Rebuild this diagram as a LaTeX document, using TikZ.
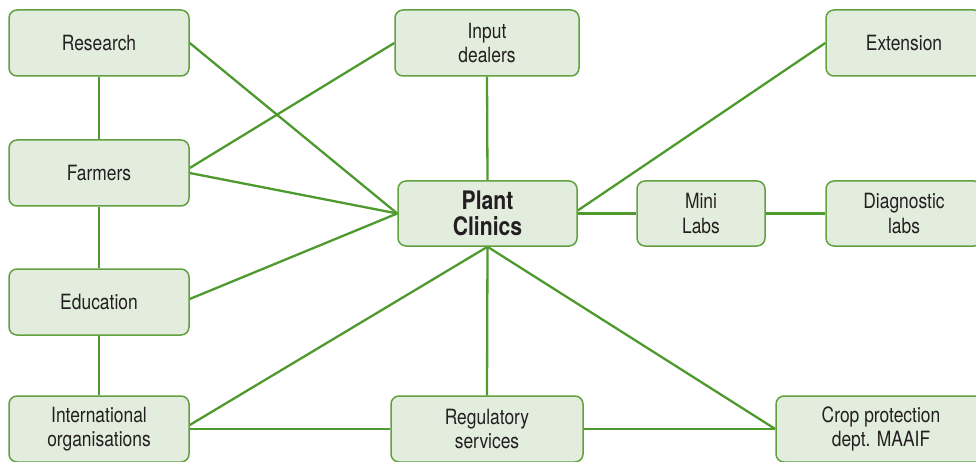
\documentclass[tikz,border=0pt]{standalone}
\usepackage{fontspec}
\setmainfont{TeX Gyre Heros}[FakeStretch=0.83]
\usetikzlibrary{backgrounds}
\definecolor{boxfill}{HTML}{E3EDDD}
\definecolor{boxline}{HTML}{63A040}
\definecolor{linkgreen}{HTML}{4E9A2E}
\definecolor{inktext}{HTML}{231F20}
\tikzset{
  actor/.style={draw=boxline, line width=1.5pt, fill=boxfill, rounded corners=8pt,
    align=center, text=inktext, font=\fontsize{21}{24.5}\selectfont,
    minimum height=66pt, inner sep=0pt},
  hub/.style={actor, font=\fontsize{25.5}{26.5}\selectfont\bfseries},
  link/.style={draw=linkgreen, line width=2.3pt}
}
\begin{document}
\begin{tikzpicture}[x=1pt,y=1pt]
\useasboundingbox (0,0) rectangle (976,461);
% stakeholder boxes
\node[actor, minimum width=180pt] (res)  at (99,418)  {Research};
\node[actor, minimum width=184pt] (inp)  at (487,418) {Input\\dealers};
\node[actor, minimum width=156pt] (ext)  at (904,418) {Extension};
\node[actor, minimum width=180pt] (farm) at (99,288)  {Farmers};
\node[hub,   minimum width=179pt, minimum height=65pt] (pc) at (487.5,247.5) {Plant\\Clinics};
\node[actor, minimum width=128pt, minimum height=65pt] (mini) at (701,247.5) {Mini\\Labs};
\node[actor, minimum width=156pt, minimum height=65pt] (diag) at (904,247.5) {Diagnostic\\labs};
\node[actor, minimum width=180pt] (edu)  at (99,159)  {Education};
\node[actor, minimum width=180pt] (intl) at (99,32)   {International\\organisations};
\node[actor, minimum width=192pt] (reg)  at (487,32)  {Regulatory\\services};
\node[actor, minimum width=210pt] (crop) at (881,32)  {Crop protection\\dept. MAAIF};
% connections
\begin{scope}[on background layer]
\draw[link] (res.south) -- (farm.north);
\draw[link] (farm.south) -- (edu.north);
\draw[link] (edu.south) -- (intl.north);
\draw[link] (res.east) -- (pc.west);
\draw[link] ([yshift=5pt]farm.east) -- (inp.west);
\draw[link] (farm.east) -- (pc.west);
\draw[link] ([yshift=3pt]edu.east) -- (pc.west);
\draw[link] (inp.south) -- (pc.north);
\draw[link] (ext.west) -- ([yshift=3pt]pc.east);
\draw[link] (pc.east) -- (mini.west);
\draw[link] (mini.east) -- (diag.west);
\draw[link] (pc.south) -- ([yshift=4pt]intl.east);
\draw[link] (pc.south) -- (reg.north);
\draw[link] (pc.south) -- (crop.west);
\draw[link] (intl.east) -- (reg.west);
\draw[link] (reg.east) -- (crop.west);
\end{scope}
\end{tikzpicture}
\end{document}
